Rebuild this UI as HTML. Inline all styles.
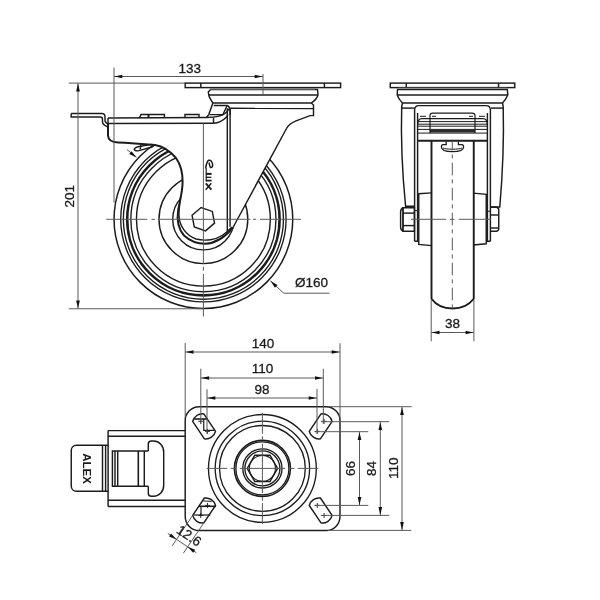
<!DOCTYPE html>
<html><head><meta charset="utf-8"><style>
html,body{margin:0;padding:0;background:#fff;}
svg{display:block;}
text{font-family:"Liberation Sans",sans-serif;}
svg{will-change:transform;}
</style></head><body>
<svg width="600" height="600" viewBox="0 0 600 600">
<rect width="600" height="600" fill="#fff"/>
<circle cx="203.4" cy="219.2" r="89.35" stroke="#1c1c1c" stroke-width="1.5" fill="none" />
<circle cx="203.4" cy="219.2" r="82.7" stroke="#1c1c1c" stroke-width="1.35" fill="none" />
<circle cx="203.4" cy="219.2" r="80.05" stroke="#1c1c1c" stroke-width="1.35" fill="none" />
<circle cx="203.4" cy="219.2" r="76.2" stroke="#1c1c1c" stroke-width="2.6" fill="none" />
<circle cx="203.4" cy="219.2" r="72.55" stroke="#1c1c1c" stroke-width="1.35" fill="none" />
<circle cx="203.4" cy="219.2" r="66.95" stroke="#1c1c1c" stroke-width="1.4" fill="none" />
<circle cx="203.4" cy="219.2" r="44.4" stroke="#1c1c1c" stroke-width="1.4" fill="none" />
<circle cx="203.4" cy="219.2" r="30.7" stroke="#1c1c1c" stroke-width="1.4" fill="none" />
<path d="M108,118 L108,135.5 C108.3,140 111,142.3 118,142.5 L125,142.7 L155,145 C164,146.5 171,152 176,158 C181,165 182.7,172 182.6,182 C182.5,192 180,200 178.2,210 C176.5,222 181,236 195,242.5 C205,245.5 217,243 226,236.5 C229.5,233.5 231.5,230.5 233,227.5 L286.5,128.5 C288.5,124.5 292,122.5 296,120.8 L310,115.6 L313.5,115.6 L313.5,105 L228,105 L215,105 L207,117.5 Z" stroke="none" stroke-width="0" fill="#fff" />
<path d="M108,123.5 L108,135.5 C108.3,140 111,142.3 118,142.5 L125,142.7 L155,145 C164,146.5 171,152 176,158 C181,165 182.7,172 182.6,182 C182.5,192 180,200 178.2,210 C176.8,219 177.5,228 184,235.5 C190,241 197,243.8 205,243.8 C214,243.5 223,239.5 233,227.5" stroke="#1c1c1c" stroke-width="2.0" fill="none" />
<path d="M180.6,197 C179.5,205 178.6,211 179,216 C179.5,226 186,235.5 196,239 C206,241.5 216,239.5 222,235.5 C226,233 229,230 232,227" stroke="#1c1c1c" stroke-width="1.45" fill="none" />
<path d="M233,227.5 L286.5,128.5 C288.5,124.5 292,122.5 296,120.8 L310,115.6 L313.5,115.6 L313.5,105 L311.25,103" stroke="#1c1c1c" stroke-width="1.45" fill="none" />
<line x1="227.3" y1="108.3" x2="227.3" y2="231" stroke="#1c1c1c" stroke-width="1.45" />
<line x1="230.1" y1="108.2" x2="230.1" y2="226.7" stroke="#1c1c1c" stroke-width="1.45" />
<line x1="230.2" y1="108.3" x2="313.5" y2="108.5" stroke="#1c1c1c" stroke-width="1.45" />
<path d="M212.9,102.9 L208.75,114.6 L206.7,117.3" stroke="#1c1c1c" stroke-width="1.45" fill="none" />
<path d="M213.75,105.4 L227.1,105.4 C228.6,106 229.7,107.5 230.1,110 L230.2,115" stroke="#1c1c1c" stroke-width="1.45" fill="none" />
<path d="M209.6,114.6 L222.9,114.6 L227.1,105.8" stroke="#1c1c1c" stroke-width="1.45" fill="none" />
<path d="M71.2,113.5 L102,113.5 C104,113.5 105,115 105,117 L105,120.5 C105,122 106,123 108,124" stroke="#1c1c1c" stroke-width="1.45" fill="none" />
<path d="M71.2,113.5 L71.2,117 L100.5,117 C101.8,117 102.5,118 102.5,119.5 L102.5,122 C102.5,124 104.5,125.5 107.6,126.8" stroke="#1c1c1c" stroke-width="1.45" fill="none" />
<line x1="108" y1="118" x2="207" y2="117.5" stroke="#1c1c1c" stroke-width="1.45" />
<line x1="108" y1="123.5" x2="213.75" y2="123.3" stroke="#1c1c1c" stroke-width="1.45" />
<line x1="108" y1="118" x2="108" y2="124" stroke="#1c1c1c" stroke-width="1.45" />
<path d="M207,117.5 C215,117.3 221,116.5 225,113.5 C227,112 228,110.5 229,108.8" stroke="#1c1c1c" stroke-width="1.45" fill="none" />
<path d="M213.75,123.3 C219,123 223,120.5 226,117.5 C227,116.5 227.6,115.5 227.9,114.5" stroke="#1c1c1c" stroke-width="1.45" fill="none" />
<line x1="213.5" y1="117.5" x2="213.5" y2="123.3" stroke="#1c1c1c" stroke-width="1.45" />
<path d="M139.4,118 L141,114.4 L164.4,114.4 L164.4,118" stroke="#1c1c1c" stroke-width="1.45" fill="none" />
<line x1="148.5" y1="114.4" x2="148.5" y2="118" stroke="#1c1c1c" stroke-width="2" />
<path d="M185,118 L185,114.4 L199,114.4 L199,118" stroke="#1c1c1c" stroke-width="1.45" fill="none" />
<path d="M210.6,89.5 L317.5,89.5 L318,95 C317,99 313.5,101.5 311.25,103 L212.9,103 C211,100 209.2,97.5 208.75,95 L208.3,92 Z" stroke="#1c1c1c" stroke-width="1.45" fill="none" />
<line x1="208.75" y1="95" x2="318" y2="95" stroke="#1c1c1c" stroke-width="1.45" />
<rect x="210" y="87.8" width="105" height="1.6" fill="#b0b0b0"/>
<rect x="185.2" y="83.1" width="155.4" height="4.5" fill="#fff" stroke="#1c1c1c" stroke-width="1.45"/>
<line x1="200.8" y1="83.1" x2="200.8" y2="87.6" stroke="#1c1c1c" stroke-width="1.45" />
<line x1="324.4" y1="83.1" x2="324.4" y2="87.6" stroke="#1c1c1c" stroke-width="1.45" />
<path d="M135.5,150.5 C133,149.5 134.5,147.6 138,146.7 L150,144.6 C154,144 155,146 152,147 L139,150.6 C137.5,151 136.5,151 135.5,150.5 Z" stroke="#1c1c1c" stroke-width="1.45" fill="none" />
<line x1="140.8" y1="145" x2="140.2" y2="149.5" stroke="#1c1c1c" stroke-width="1.45" />
<line x1="127" y1="149.6" x2="136.5" y2="157.2" stroke="#5a5a5a" stroke-width="1.0" />
<path d="M136.50,157.50 L129.27,154.03 L131.60,151.15 Z" fill="#111"/>
<polygon points="214.53,223.13 205.51,230.89 194.28,226.96 192.07,215.27 201.09,207.51 212.32,211.44" fill="none" stroke="#1c1c1c" stroke-width="1.45"/>
<path d="M205.6,168.4 C206.2,165 207,161 208.6,160.3 C210.5,159.6 212.2,161.5 212.6,164.5 C212.8,166.5 212,167.8 210.6,167.6 C209.4,166.5 209.6,163.5 208.8,162.6" stroke="#1c1c1c" stroke-width="1.5" fill="none" />
<line x1="206.2" y1="168" x2="206.2" y2="181.5" stroke="#1c1c1c" stroke-width="1.2" />
<line x1="206" y1="173.9" x2="211.6" y2="173.9" stroke="#1c1c1c" stroke-width="2.0" />
<line x1="206" y1="177.3" x2="211.3" y2="177.3" stroke="#1c1c1c" stroke-width="1.3" />
<line x1="206" y1="180.6" x2="211.6" y2="180.6" stroke="#1c1c1c" stroke-width="1.7" />
<line x1="205.8" y1="183.3" x2="211.4" y2="189.7" stroke="#1c1c1c" stroke-width="1.8" />
<line x1="211.3" y1="183.3" x2="205.7" y2="189.7" stroke="#1c1c1c" stroke-width="1.4" />
<line x1="106.3" y1="219.3" x2="147.25" y2="219.3" stroke="#5a5a5a" stroke-width="1.0" />
<line x1="151.5" y1="219.3" x2="155" y2="219.3" stroke="#5a5a5a" stroke-width="1.0" />
<line x1="157.75" y1="219.3" x2="250.5" y2="219.3" stroke="#5a5a5a" stroke-width="1.0" />
<line x1="253" y1="219.3" x2="256" y2="219.3" stroke="#5a5a5a" stroke-width="1.0" />
<line x1="260" y1="219.3" x2="301" y2="219.3" stroke="#5a5a5a" stroke-width="1.0" />
<line x1="203.4" y1="123.3" x2="203.4" y2="264" stroke="#5a5a5a" stroke-width="1.0" />
<line x1="203.4" y1="266.7" x2="203.4" y2="270.7" stroke="#5a5a5a" stroke-width="1.0" />
<line x1="203.4" y1="274" x2="203.4" y2="316.5" stroke="#5a5a5a" stroke-width="1.0" />
<line x1="114" y1="67.5" x2="114" y2="202.5" stroke="#5a5a5a" stroke-width="1.0" />
<line x1="263" y1="74" x2="263" y2="94.4" stroke="#5a5a5a" stroke-width="1.0" />
<line x1="114" y1="76.5" x2="263" y2="76.5" stroke="#5a5a5a" stroke-width="1.0" />
<path d="M114.50,76.50 L122.30,74.65 L122.30,78.35 Z" fill="#111"/>
<path d="M262.50,76.50 L254.70,78.35 L254.70,74.65 Z" fill="#111"/>
<text x="189.7" y="72.5" font-size="13.5" text-anchor="middle" fill="#1a1a1a" stroke="#1a1a1a" stroke-width="0.3" >133</text>
<line x1="68.75" y1="83.1" x2="185.2" y2="83.1" stroke="#5a5a5a" stroke-width="1.0" />
<line x1="68.75" y1="308.75" x2="203" y2="308.75" stroke="#5a5a5a" stroke-width="1.0" />
<line x1="78" y1="83.1" x2="78" y2="308.75" stroke="#5a5a5a" stroke-width="1.0" />
<path d="M78.00,83.60 L79.85,91.40 L76.15,91.40 Z" fill="#111"/>
<path d="M78.00,308.30 L76.15,300.50 L79.85,300.50 Z" fill="#111"/>
<text x="74.4" y="196.25" font-size="13.5" text-anchor="middle" fill="#1a1a1a" stroke="#1a1a1a" stroke-width="0.3" transform="rotate(-90 74.4 196.25)" >201</text>
<path d="M270.25,280.75 L283.75,293.2 L329.5,293.2" stroke="#5a5a5a" stroke-width="1.0" fill="none" />
<path d="M270.50,281.00 L277.47,284.97 L274.94,287.67 Z" fill="#111"/>
<text x="295" y="286.8" font-size="13.5" text-anchor="start" fill="#1a1a1a" stroke="#1a1a1a" stroke-width="0.3" >&#216;160</text>
<rect x="390.25" y="83.1" width="124.5" height="4.5" fill="#fff" stroke="#1c1c1c" stroke-width="1.45"/>
<line x1="406.25" y1="83.1" x2="406.25" y2="87.6" stroke="#1c1c1c" stroke-width="1.45" />
<line x1="498.5" y1="83.1" x2="498.5" y2="87.6" stroke="#1c1c1c" stroke-width="1.45" />
<rect x="398" y="87.8" width="109" height="1.6" fill="#b0b0b0"/>
<path d="M397.5,89.5 L507.3,89.5 L507.8,95 C506,99 504,101.5 502.5,103 L402.5,103 C401,101.5 398.5,99 397.2,95 Z" stroke="#1c1c1c" stroke-width="1.45" fill="none" />
<line x1="397.2" y1="95" x2="507.8" y2="95" stroke="#1c1c1c" stroke-width="1.45" />
<path d="M402.5,103 L401.7,106.5 C401,130 402,170 405.6,206.3 L414.6,206.3" stroke="#1c1c1c" stroke-width="1.45" fill="none" />
<path d="M502.5,103 L503.2,106.5 C503.8,130 503,170 499.8,206.9 L490.4,206.9" stroke="#1c1c1c" stroke-width="1.45" fill="none" />
<line x1="401.9" y1="108.1" x2="414.6" y2="108.1" stroke="#1c1c1c" stroke-width="1.45" />
<line x1="491" y1="108.1" x2="503" y2="108.1" stroke="#1c1c1c" stroke-width="1.45" />
<path d="M414.6,241.25 L414.6,110 C414.6,107 416,105.6 419,105.6 L486,105.6 C489,105.6 490.4,107 490.4,110 L490.4,241.25" stroke="#1c1c1c" stroke-width="1.45" fill="none" />
<path d="M414.6,241.25 L417.6,241.25 L417.6,113" stroke="#1c1c1c" stroke-width="1.45" fill="none" />
<path d="M490.4,241.25 L487.4,241.25 L487.4,113" stroke="#1c1c1c" stroke-width="1.45" fill="none" />
<line x1="414.6" y1="210.6" x2="417.6" y2="210.6" stroke="#1c1c1c" stroke-width="1.0" />
<line x1="487.4" y1="211.25" x2="490.4" y2="211.25" stroke="#1c1c1c" stroke-width="1.0" />
<path d="M417.6,125 C417.6,120.5 419,118.6 422,118.6 L483,118.6 C486,118.6 487.4,120.5 487.4,125" stroke="#1c1c1c" stroke-width="1.2" fill="none" />
<line x1="418" y1="121.6" x2="487" y2="121.6" stroke="#1c1c1c" stroke-width="1.0" />
<line x1="418" y1="124.2" x2="487" y2="124.2" stroke="#1c1c1c" stroke-width="1.0" />
<line x1="418" y1="126.2" x2="487" y2="126.2" stroke="#1c1c1c" stroke-width="1.0" />
<line x1="418" y1="129.4" x2="487" y2="129.4" stroke="#1c1c1c" stroke-width="1.0" />
<rect x="430" y="130" width="45" height="2.5" fill="#2a2a2a"/>
<line x1="418" y1="133.1" x2="487" y2="133.1" stroke="#1c1c1c" stroke-width="1.0" />
<line x1="417.5" y1="140.8" x2="487.5" y2="140.8" stroke="#1c1c1c" stroke-width="2.0" />
<path d="M430,133 L430,115.5 C430,113.8 431,113.1 432.8,113.1 L472.2,113.1 C474,113.1 475,113.8 475,115.5 L475,133" stroke="#1c1c1c" stroke-width="1.2" fill="none" />
<line x1="420" y1="116.3" x2="426" y2="116.3" stroke="#1c1c1c" stroke-width="1.0" />
<line x1="432" y1="116.3" x2="436" y2="116.3" stroke="#1c1c1c" stroke-width="1.0" />
<line x1="469" y1="116.3" x2="473" y2="116.3" stroke="#1c1c1c" stroke-width="1.0" />
<line x1="479" y1="116.3" x2="485" y2="116.3" stroke="#1c1c1c" stroke-width="1.0" />
<path d="M446.2,141.5 L446.2,144.6 L443,144.6 C441.8,144.6 441.4,145.5 441.4,147 C441.4,150 446,151.6 452.5,151.6 C459,151.6 463.6,150 463.6,147 C463.6,145.5 463,144.6 461.8,144.6 L458.4,144.6 L458.4,141.5" stroke="#1c1c1c" stroke-width="1.3" fill="none" />
<path d="M443,148 C446,149.6 459,149.6 462,148" stroke="#1c1c1c" stroke-width="1.0" fill="none" />
<path d="M431.5,140.6 L431.5,298.75 C436,305 444,308.5 452.5,308.5 C461,308.5 469,305 473.75,298.75 L473.75,140.6" stroke="#1c1c1c" stroke-width="1.9" fill="none" />
<path d="M431.5,192.9 L418.75,193.75 L418.75,244.4 L431.5,245.6" stroke="#1c1c1c" stroke-width="1.45" fill="none" />
<path d="M473.1,193.1 L486.25,194.4 L486.25,243.75 L473.1,245" stroke="#1c1c1c" stroke-width="1.45" fill="none" />
<path d="M414.4,207.75 L403,207.75 C401.5,208.5 400.6,210 400.6,212 L400.6,227 C400.6,229 401.5,230.5 403,231.25 L414.4,231.25 Z" stroke="#1c1c1c" stroke-width="1.45" fill="none" />
<line x1="403" y1="207.75" x2="403" y2="231.25" stroke="#1c1c1c" stroke-width="1.8" />
<line x1="403" y1="213.1" x2="414.4" y2="213.1" stroke="#1c1c1c" stroke-width="1.45" />
<line x1="403" y1="225.6" x2="414.4" y2="225.6" stroke="#1c1c1c" stroke-width="1.45" />
<path d="M490.6,207.25 L496.5,207.25 C498,207.5 498.75,208.5 498.75,210 L498.75,228.5 C498.75,230 498,231 496.5,231.25 L490.6,231.25" stroke="#1c1c1c" stroke-width="1.45" fill="none" />
<line x1="490.6" y1="215" x2="498.75" y2="215" stroke="#1c1c1c" stroke-width="1.45" />
<line x1="490.6" y1="228" x2="498.75" y2="228" stroke="#1c1c1c" stroke-width="1.45" />
<line x1="452.3" y1="141.5" x2="452.3" y2="308.5" stroke="#5a5a5a" stroke-width="1.0" stroke-dasharray="12.7,4,4,4.3" stroke-dashoffset="3.8"/>
<line x1="411" y1="219.3" x2="446.25" y2="219.3" stroke="#5a5a5a" stroke-width="1.0" />
<line x1="450" y1="219.3" x2="454.5" y2="219.3" stroke="#5a5a5a" stroke-width="1.0" />
<line x1="458.75" y1="219.3" x2="491" y2="219.3" stroke="#5a5a5a" stroke-width="1.0" />
<line x1="431.2" y1="300" x2="431.2" y2="341.25" stroke="#5a5a5a" stroke-width="1.0" />
<line x1="473.9" y1="300" x2="473.9" y2="341.25" stroke="#5a5a5a" stroke-width="1.0" />
<line x1="431.2" y1="332.5" x2="473.9" y2="332.5" stroke="#5a5a5a" stroke-width="1.0" />
<path d="M431.70,332.50 L439.50,330.65 L439.50,334.35 Z" fill="#111"/>
<path d="M473.40,332.50 L465.60,334.35 L465.60,330.65 Z" fill="#111"/>
<text x="452.5" y="328.1" font-size="13.5" text-anchor="middle" fill="#1a1a1a" stroke="#1a1a1a" stroke-width="0.3" >38</text>
<rect x="185.2" y="406.7" width="154.8" height="123.8" rx="14" ry="14" fill="#fff" stroke="#1c1c1c" stroke-width="1.45"/>
<circle cx="262.4" cy="468.4" r="53.9" stroke="#1c1c1c" stroke-width="1.35" fill="none" />
<circle cx="262.4" cy="468.4" r="47.2" stroke="#1c1c1c" stroke-width="1.35" fill="none" />
<circle cx="262.4" cy="468.4" r="42.9" stroke="#1c1c1c" stroke-width="1.35" fill="none" />
<circle cx="262.4" cy="468.4" r="28.0" stroke="#1c1c1c" stroke-width="1.6" fill="none" />
<circle cx="262.4" cy="468.4" r="26.5" stroke="#1c1c1c" stroke-width="1.3" fill="none" />
<circle cx="262.4" cy="468.4" r="19.6" stroke="#1c1c1c" stroke-width="1.35" fill="none" />
<circle cx="262.4" cy="468.4" r="17.5" stroke="#1c1c1c" stroke-width="1.35" fill="none" />
<circle cx="262.4" cy="468.4" r="13.0" stroke="#1c1c1c" stroke-width="1.1" fill="none" />
<polygon points="277.60,468.40 270.00,481.56 254.80,481.56 247.20,468.40 254.80,455.24 270.00,455.24" fill="none" stroke="#1c1c1c" stroke-width="1.45"/>
<line x1="206.7" y1="468.4" x2="227.1" y2="468.4" stroke="#5a5a5a" stroke-width="1.0" />
<line x1="230.6" y1="468.4" x2="235.3" y2="468.4" stroke="#5a5a5a" stroke-width="1.0" />
<line x1="239.9" y1="468.4" x2="285.1" y2="468.4" stroke="#5a5a5a" stroke-width="1.0" />
<line x1="289.7" y1="468.4" x2="294.4" y2="468.4" stroke="#5a5a5a" stroke-width="1.0" />
<line x1="297.9" y1="468.4" x2="318.3" y2="468.4" stroke="#5a5a5a" stroke-width="1.0" />
<line x1="262.4" y1="412.8" x2="262.4" y2="433.8" stroke="#5a5a5a" stroke-width="1.0" />
<line x1="262.4" y1="436.2" x2="262.4" y2="439.5" stroke="#5a5a5a" stroke-width="1.0" />
<line x1="262.4" y1="443.8" x2="262.4" y2="493" stroke="#5a5a5a" stroke-width="1.0" />
<line x1="262.4" y1="497.3" x2="262.4" y2="500.6" stroke="#5a5a5a" stroke-width="1.0" />
<line x1="262.4" y1="503" x2="262.4" y2="524" stroke="#5a5a5a" stroke-width="1.0" />
<path d="M321.00,413.91 L309.28,431.31 A10,10 0 0 0 320.40,438.79 L332.12,421.39 A10,10 0 0 0 321.00,413.91 Z" stroke="#1c1c1c" stroke-width="1.45" fill="none" />
<line x1="314.79999999999995" y1="431.4" x2="319.79999999999995" y2="431.4" stroke="#1c1c1c" stroke-width="0.9" />
<line x1="317.29999999999995" y1="428.9" x2="317.29999999999995" y2="433.9" stroke="#1c1c1c" stroke-width="0.9" />
<line x1="321.59999999999997" y1="421.29999999999995" x2="326.59999999999997" y2="421.29999999999995" stroke="#1c1c1c" stroke-width="0.9" />
<line x1="324.09999999999997" y1="418.79999999999995" x2="324.09999999999997" y2="423.79999999999995" stroke="#1c1c1c" stroke-width="0.9" />
<path d="M192.68,421.39 L204.40,438.79 A10,10 0 0 0 215.52,431.31 L203.80,413.91 A10,10 0 0 0 192.68,421.39 Z" stroke="#1c1c1c" stroke-width="1.45" fill="none" />
<line x1="204.99999999999997" y1="431.4" x2="209.99999999999997" y2="431.4" stroke="#1c1c1c" stroke-width="0.9" />
<line x1="207.49999999999997" y1="428.9" x2="207.49999999999997" y2="433.9" stroke="#1c1c1c" stroke-width="0.9" />
<line x1="198.2" y1="421.29999999999995" x2="203.2" y2="421.29999999999995" stroke="#1c1c1c" stroke-width="0.9" />
<line x1="200.7" y1="418.79999999999995" x2="200.7" y2="423.79999999999995" stroke="#1c1c1c" stroke-width="0.9" />
<path d="M332.12,515.41 L320.40,498.01 A10,10 0 0 0 309.28,505.49 L321.00,522.89 A10,10 0 0 0 332.12,515.41 Z" stroke="#1c1c1c" stroke-width="1.45" fill="none" />
<line x1="314.79999999999995" y1="505.4" x2="319.79999999999995" y2="505.4" stroke="#1c1c1c" stroke-width="0.9" />
<line x1="317.29999999999995" y1="502.9" x2="317.29999999999995" y2="507.9" stroke="#1c1c1c" stroke-width="0.9" />
<line x1="321.59999999999997" y1="515.5" x2="326.59999999999997" y2="515.5" stroke="#1c1c1c" stroke-width="0.9" />
<line x1="324.09999999999997" y1="513.0" x2="324.09999999999997" y2="518.0" stroke="#1c1c1c" stroke-width="0.9" />
<path d="M203.80,522.89 L215.52,505.49 A10,10 0 0 0 204.40,498.01 L192.68,515.41 A10,10 0 0 0 203.80,522.89 Z" stroke="#1c1c1c" stroke-width="1.45" fill="none" />
<line x1="204.99999999999997" y1="505.4" x2="209.99999999999997" y2="505.4" stroke="#1c1c1c" stroke-width="0.9" />
<line x1="207.49999999999997" y1="502.9" x2="207.49999999999997" y2="507.9" stroke="#1c1c1c" stroke-width="0.9" />
<line x1="198.2" y1="515.5" x2="203.2" y2="515.5" stroke="#1c1c1c" stroke-width="0.9" />
<line x1="200.7" y1="513.0" x2="200.7" y2="518.0" stroke="#1c1c1c" stroke-width="0.9" />
<path d="M194.5,419 L208,419" stroke="#1c1c1c" stroke-width="1.6" fill="none" />
<path d="M203.75,419 L203.75,430.4 L214.2,430.4" stroke="#1c1c1c" stroke-width="1.2" fill="none" />
<path d="M199,506.3 L216,506.3" stroke="#1c1c1c" stroke-width="1.6" fill="none" />
<path d="M193.7,515 L210.3,515" stroke="#1c1c1c" stroke-width="1.2" fill="none" />
<path d="M201,506.3 L201,515" stroke="#1c1c1c" stroke-width="1.2" fill="none" />
<path d="M203.3,501 L211.7,501.3" stroke="#1c1c1c" stroke-width="1.0" fill="none" />
<line x1="185.2" y1="343" x2="185.2" y2="418" stroke="#5a5a5a" stroke-width="1.0" />
<line x1="340" y1="343.3" x2="340" y2="418" stroke="#5a5a5a" stroke-width="1.0" />
<line x1="185.2" y1="352" x2="340" y2="352" stroke="#5a5a5a" stroke-width="1.0" />
<path d="M185.70,352.00 L193.50,350.15 L193.50,353.85 Z" fill="#111"/>
<path d="M339.50,352.00 L331.70,353.85 L331.70,350.15 Z" fill="#111"/>
<text x="263" y="347.5" font-size="13.5" text-anchor="middle" fill="#1a1a1a" stroke="#1a1a1a" stroke-width="0.3" >140</text>
<line x1="200.8" y1="368.7" x2="200.8" y2="424" stroke="#5a5a5a" stroke-width="1.0" />
<line x1="323.3" y1="368.7" x2="323.3" y2="424" stroke="#5a5a5a" stroke-width="1.0" />
<line x1="200.8" y1="378" x2="323.3" y2="378" stroke="#5a5a5a" stroke-width="1.0" />
<path d="M201.30,378.00 L209.10,376.15 L209.10,379.85 Z" fill="#111"/>
<path d="M322.80,378.00 L315.00,379.85 L315.00,376.15 Z" fill="#111"/>
<text x="262.5" y="373.3" font-size="13.5" text-anchor="middle" fill="#1a1a1a" stroke="#1a1a1a" stroke-width="0.3" >110</text>
<line x1="207" y1="389.2" x2="207" y2="434" stroke="#5a5a5a" stroke-width="1.0" />
<line x1="317" y1="389" x2="317" y2="434" stroke="#5a5a5a" stroke-width="1.0" />
<line x1="207" y1="398" x2="317" y2="398" stroke="#5a5a5a" stroke-width="1.0" />
<path d="M207.50,398.00 L215.30,396.15 L215.30,399.85 Z" fill="#111"/>
<path d="M316.50,398.00 L308.70,399.85 L308.70,396.15 Z" fill="#111"/>
<text x="262" y="393.7" font-size="13.5" text-anchor="middle" fill="#1a1a1a" stroke="#1a1a1a" stroke-width="0.3" >98</text>
<line x1="328" y1="406.7" x2="411.7" y2="406.7" stroke="#5a5a5a" stroke-width="1.0" />
<line x1="328" y1="530.4" x2="411.3" y2="530.4" stroke="#5a5a5a" stroke-width="1.0" />
<line x1="320.8" y1="421.7" x2="389.2" y2="421.7" stroke="#5a5a5a" stroke-width="1.0" />
<line x1="320.8" y1="515.4" x2="389.2" y2="515.4" stroke="#5a5a5a" stroke-width="1.0" />
<line x1="314.5" y1="431.7" x2="368.3" y2="431.7" stroke="#5a5a5a" stroke-width="1.0" />
<line x1="314.5" y1="505.4" x2="368.3" y2="505.4" stroke="#5a5a5a" stroke-width="1.0" />
<line x1="359.5" y1="431.7" x2="359.5" y2="505.4" stroke="#5a5a5a" stroke-width="1.0" />
<path d="M359.50,432.20 L361.35,440.00 L357.65,440.00 Z" fill="#111"/>
<path d="M359.50,504.90 L357.65,497.10 L361.35,497.10 Z" fill="#111"/>
<line x1="380.3" y1="421.7" x2="380.3" y2="515.4" stroke="#5a5a5a" stroke-width="1.0" />
<path d="M380.30,422.20 L382.15,430.00 L378.45,430.00 Z" fill="#111"/>
<path d="M380.30,514.90 L378.45,507.10 L382.15,507.10 Z" fill="#111"/>
<line x1="402" y1="406.7" x2="402" y2="530.4" stroke="#5a5a5a" stroke-width="1.0" />
<path d="M402.00,407.20 L403.85,415.00 L400.15,415.00 Z" fill="#111"/>
<path d="M402.00,529.90 L400.15,522.10 L403.85,522.10 Z" fill="#111"/>
<text x="355" y="468.6" font-size="13.5" text-anchor="middle" fill="#1a1a1a" stroke="#1a1a1a" stroke-width="0.3" transform="rotate(-90 355 468.6)" >66</text>
<text x="375.8" y="468.6" font-size="13.5" text-anchor="middle" fill="#1a1a1a" stroke="#1a1a1a" stroke-width="0.3" transform="rotate(-90 375.8 468.6)" >84</text>
<text x="398.3" y="468.2" font-size="13.5" text-anchor="middle" fill="#1a1a1a" stroke="#1a1a1a" stroke-width="0.3" transform="rotate(-90 398.3 468.2)" >110</text>
<path d="M108.1,436.25 L185.2,436.25" stroke="#1c1c1c" stroke-width="1.45" fill="none" />
<path d="M108.1,500.3 L185.2,500.3" stroke="#1c1c1c" stroke-width="1.45" fill="none" />
<path d="M108.1,430.6 L185.2,430.6 M108.1,506.5 L185.2,506.5 M108.1,430.6 L108.1,506.5" stroke="#1c1c1c" stroke-width="1.45" fill="none" />
<path d="M108.1,445.25 L76.5,445.25 C73.5,445.25 71.25,447.5 71.25,450.5 L71.25,486 C71.25,489 73.5,491.25 76.5,491.25 L108.1,491.25" stroke="#1c1c1c" stroke-width="1.45" fill="none" />
<line x1="102.5" y1="445.25" x2="102.5" y2="491.25" stroke="#1c1c1c" stroke-width="1.45" />
<line x1="105.6" y1="445.25" x2="105.6" y2="491.25" stroke="#1c1c1c" stroke-width="1.45" />
<path d="M148.3,451 L112.4,451 L112.4,486.3 L148.3,486.3" stroke="#1c1c1c" stroke-width="1.45" fill="none" />
<line x1="115" y1="451" x2="115" y2="486.3" stroke="#1c1c1c" stroke-width="1.45" />
<line x1="117.7" y1="451" x2="117.7" y2="486.3" stroke="#1c1c1c" stroke-width="1.45" />
<line x1="138.3" y1="451" x2="138.3" y2="486.3" stroke="#1c1c1c" stroke-width="1.6" />
<line x1="144.3" y1="451" x2="144.3" y2="486.3" stroke="#1c1c1c" stroke-width="1.45" />
<path d="M148.3,451 L148.3,444 C148.3,442 149.5,441 151.5,441 L153.5,441 C159.5,441 163.7,446 163.7,452 L163.7,485.3 C163.7,491.3 159.5,496.3 153.5,496.3 L151.5,496.3 C149.5,496.3 148.3,495.3 148.3,493.3 L148.3,486.3" stroke="#1c1c1c" stroke-width="1.45" fill="none" />
<text x="0" y="0" font-size="11.5" text-anchor="middle" fill="#1a1a1a" stroke="#1a1a1a" stroke-width="0" font-weight="bold" transform="translate(82.6,468.5) rotate(90)">ALEX</text>
<line x1="192.6849180529953" y1="515.4080142250165" x2="172.30021327538938" y2="545.6852963211666" stroke="#5a5a5a" stroke-width="1.0" />
<line x1="203.80041339788326" y1="522.8917140611787" x2="183.41570862027734" y2="553.1689961573288" stroke="#5a5a5a" stroke-width="1.0" />
<line x1="167.83479668087514" y1="533.5168923733418" x2="196.3700981632741" y2="552.7287785199076" stroke="#5a5a5a" stroke-width="1.0" />
<path d="M176.54,539.38 L169.04,536.56 L171.11,533.49 Z" fill="#111"/>
<path d="M187.66,546.86 L195.16,549.69 L193.10,552.76 Z" fill="#111"/>
<text x="186.5" y="539.5" font-size="13.5" text-anchor="middle" fill="#1a1a1a" stroke="#1a1a1a" stroke-width="0.3" transform="rotate(34 186.5 539.5)" >12.6</text>
</svg></body></html>
